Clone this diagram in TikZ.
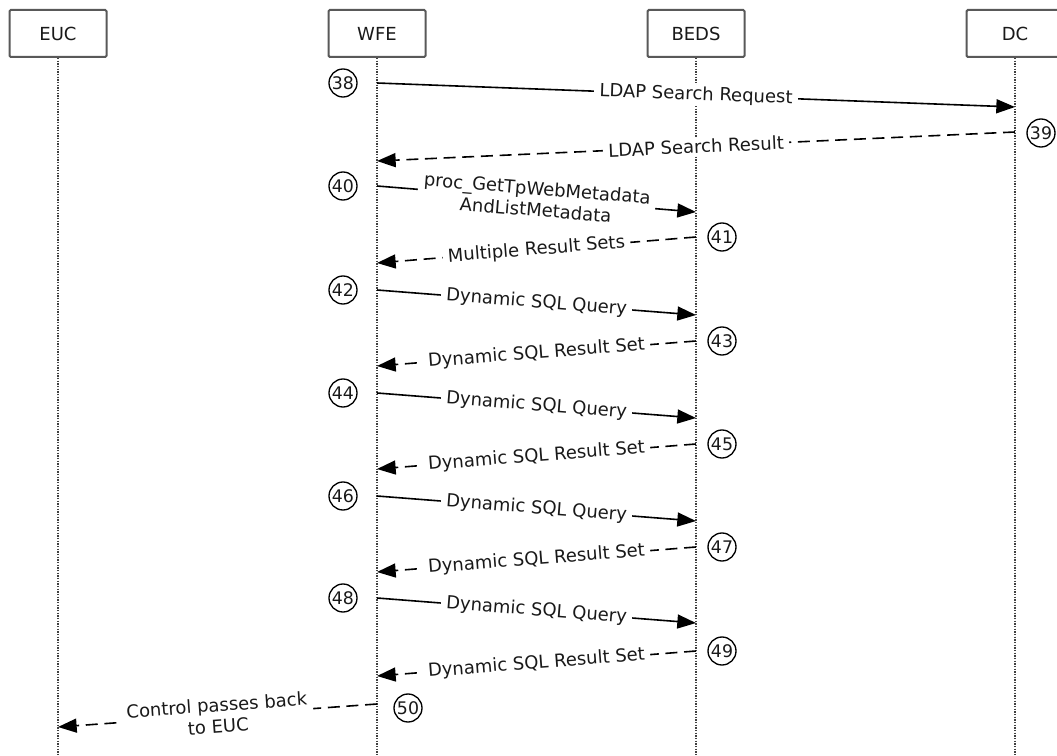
\documentclass[tikz,border=0pt]{standalone}
\usepackage{fontspec}
\setmainfont{DejaVu Sans}
\usetikzlibrary{arrows.meta, positioning, calc}

\begin{document}
\begin{tikzpicture}[x=0.75pt, y=-0.75pt,
    actor/.style={draw=black!65, line width=1.5pt, rounded corners=1pt, fill=white,
        minimum width=72.75pt, minimum height=35.25pt, inner sep=0pt,
        font=\fontsize{13.5}{16}\selectfont, text=black!90},
    lifeline/.style={black!75, line width=1.8pt, dash pattern=on 1.1pt off 0.9pt},
    msg/.style={line width=1.2pt, -{Triangle[length=14pt, width=10.5pt]}},
    reply/.style={msg, dash pattern=on 9pt off 5pt},
    lbl/.style={midway, sloped, fill=white, inner xsep=4pt, inner ysep=1pt, align=center,
        font=\fontsize{13.5}{16}\selectfont, text=black!90},
    stepnum/.style={circle, draw, line width=1pt, minimum size=21pt, inner sep=0pt,
        font=\fontsize{13}{13}\selectfont, text=black!90}]
    \useasboundingbox (0,0) rectangle (1057,756);
    \coordinate (bottom) at (0,756);

    % participants
    \node[actor] (euc)  at (58,33.5)   {EUC};
    \node[actor] (wfe)  at (377,33.5)  {WFE};
    \node[actor] (beds) at (696,33.5)  {BEDS};
    \node[actor] (dc)   at (1015,33.5) {DC};
    \foreach \a in {euc,wfe,beds,dc}
        \draw[lifeline] (\a.south) -- (\a.south |- bottom);

    % message ends
    \coordinate (s38) at (377,83);   \coordinate (e38) at (1015,107);
    \coordinate (s39) at (1015,132); \coordinate (e39) at (377,161);
    \coordinate (s40) at (377,186);  \coordinate (e40) at (696,212);
    \coordinate (s41) at (696,237);  \coordinate (e41) at (377,263);
    \coordinate (s42) at (377,290);  \coordinate (e42) at (696,315);
    \coordinate (s43) at (696,341);  \coordinate (e43) at (377,366);
    \coordinate (s44) at (377,393);  \coordinate (e44) at (696,418);
    \coordinate (s45) at (696,444);  \coordinate (e45) at (377,469);
    \coordinate (s46) at (377,496);  \coordinate (e46) at (696,521);
    \coordinate (s47) at (696,547);  \coordinate (e47) at (377,572);
    \coordinate (s48) at (377,598);  \coordinate (e48) at (696,623);
    \coordinate (s49) at (696,651);  \coordinate (e49) at (377,676);
    \coordinate (s50) at (377,704);  \coordinate (e50) at (58,727);

    % messages
    \draw[msg]   (s38) -- node[lbl] {LDAP Search Request} (e38);
    \draw[reply] (s39) -- node[lbl] {LDAP Search Result} (e39);
    \draw[msg]   (s40) -- node[lbl] {proc\_GetTpWebMetadata\\AndListMetadata} (e40);
    \draw[reply] (s41) -- node[lbl] {Multiple Result Sets} (e41);
    \draw[msg]   (s42) -- node[lbl] {Dynamic SQL Query} (e42);
    \draw[reply] (s43) -- node[lbl] {Dynamic SQL Result Set} (e43);
    \draw[msg]   (s44) -- node[lbl] {Dynamic SQL Query} (e44);
    \draw[reply] (s45) -- node[lbl] {Dynamic SQL Result Set} (e45);
    \draw[msg]   (s46) -- node[lbl] {Dynamic SQL Query} (e46);
    \draw[reply] (s47) -- node[lbl] {Dynamic SQL Result Set} (e47);
    \draw[msg]   (s48) -- node[lbl] {Dynamic SQL Query} (e48);
    \draw[reply] (s49) -- node[lbl] {Dynamic SQL Result Set} (e49);
    \draw[reply] (s50) -- node[lbl] {Control passes back\\to EUC} (e50);

    % step numbers
    \node[stepnum] (n38) at (343,83)   {38};
    \node[stepnum] (n39) at (1041,133) {39};
    \node[stepnum] (n40) at (343,186)  {40};
    \node[stepnum] (n41) at (722,237)  {41};
    \node[stepnum] (n42) at (343,290)  {42};
    \node[stepnum] (n43) at (722,341)  {43};
    \node[stepnum] (n44) at (343,393)  {44};
    \node[stepnum] (n45) at (722,444)  {45};
    \node[stepnum] (n46) at (343,496)  {46};
    \node[stepnum] (n47) at (722,547)  {47};
    \node[stepnum] (n48) at (343,598)  {48};
    \node[stepnum] (n49) at (722,651)  {49};
    \node[stepnum] (n50) at (408,708)  {50};
\end{tikzpicture}
\end{document}
